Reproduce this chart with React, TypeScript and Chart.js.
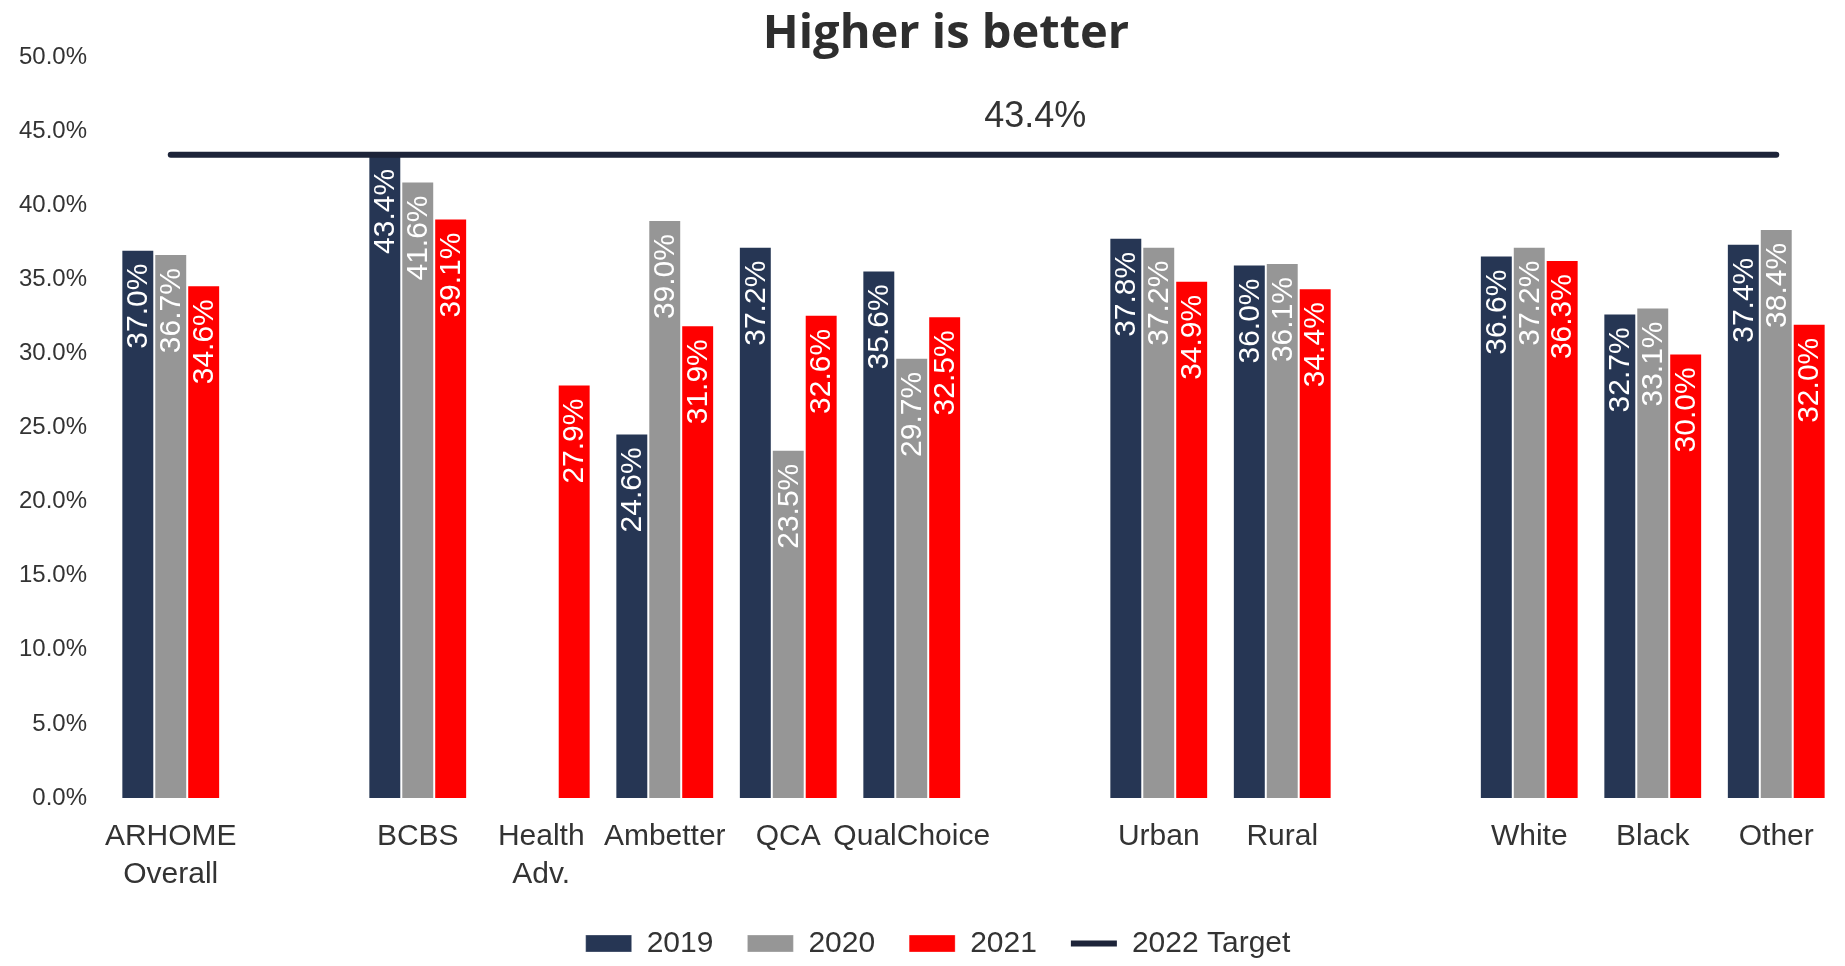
import React, { useEffect, useRef } from "react";
import { Chart, registerables } from "chart.js";

Chart.register(...registerables);

const categories: (string | string[])[] = [
  ["ARHOME", "Overall"],
  "",
  "BCBS",
  ["Health", "Adv."],
  "Ambetter",
  "QCA",
  "QualChoice",
  "",
  "Urban",
  "Rural",
  "",
  "White",
  "Black",
  "Other",
];

const values2019: (number | null)[] = [37.0, null, 43.4, null, 24.6, 37.2, 35.6, null, 37.8, 36.0, null, 36.6, 32.7, 37.4];
const values2020: (number | null)[] = [36.7, null, 41.6, null, 39.0, 23.5, 29.7, null, 37.2, 36.1, null, 37.2, 33.1, 38.4];
const values2021: (number | null)[] = [34.6, null, 39.1, 27.9, 31.9, 32.6, 32.5, null, 34.9, 34.4, null, 36.3, 30.0, 32.0];
const target2022: number[] = [43.4, 43.4, 43.4, 43.4, 43.4, 43.4, 43.4, 43.4, 43.4, 43.4, 43.4, 43.4, 43.4, 43.4];
const targetLabelIndex = 7;

const seriesNames = ["2019", "2020", "2021", "2022 Target"];
const chartTitle = "Higher is better";
const yMin = 0;
const yMax = 50;
const yStep = 5;

const NAVY = "#263654";
const GRAY = "#969696";
const RED = "#FF0000";
const LINE = "#1d2439";
const TEXT = "#333333";

const fmt = (v: number) => v.toFixed(1) + "%";

const labelPlugin = {
  id: "customLabels",
  afterDatasetsDraw(chart: any) {
    const ctx = chart.ctx;
    chart.data.datasets.forEach((ds: any, di: number) => {
      const meta = chart.getDatasetMeta(di);
      if (meta.hidden) return;
      if (ds.type === "line") {
        const pt = meta.data[targetLabelIndex];
        if (!pt) return;
        ctx.save();
        ctx.font = "36px 'Liberation Sans', Arial, sans-serif";
        ctx.fillStyle = TEXT;
        ctx.textAlign = "center";
        ctx.textBaseline = "middle";
        ctx.fillText(fmt(ds.data[targetLabelIndex]), pt.x, pt.y - 38);
        ctx.restore();
        return;
      }
      meta.data.forEach((bar: any, i: number) => {
        const v = ds.data[i];
        if (v === null || v === undefined) return;
        ctx.save();
        ctx.translate(bar.x + 1, bar.y + 14);
        ctx.rotate(-Math.PI / 2);
        ctx.font = "30px 'Liberation Sans', Arial, sans-serif";
        ctx.fillStyle = "#FFFFFF";
        ctx.textAlign = "right";
        ctx.textBaseline = "middle";
        ctx.fillText(fmt(v), 0, 0);
        ctx.restore();
      });
    });
  },
};

const titlePlugin = {
  id: "customTitle",
  afterLayout(chart: any) {
    // centre the legend row where the reference puts it
    if (chart.legend) {
      chart.legend.left += 19;
      chart.legend.right += 19;
    }
  },
  afterDraw(chart: any) {
    const ctx = chart.ctx;
    ctx.save();
    ctx.font = "bold 47px 'Open Sans', sans-serif";
    ctx.fillStyle = "#2e2e2e";
    ctx.textAlign = "center";
    ctx.textBaseline = "alphabetic";
    ctx.fillText(chartTitle, 946, 48);
    ctx.restore();
  },
};

export default function App() {
  const canvasRef = useRef<HTMLCanvasElement | null>(null);

  useEffect(() => {
    const canvas = canvasRef.current;
    if (!canvas) return;
    const barCommon = {
      type: "bar" as const,
      borderWidth: 1,
      borderColor: "rgba(255,255,255,0.3)",
      categoryPercentage: 0.8,
      barPercentage: 1.0,
      order: 1,
      pointStyle: "rect",
    };
    const chart = new Chart(canvas, {
      type: "bar",
      data: {
        labels: categories,
        datasets: [
          { ...barCommon, label: seriesNames[0], data: values2019, backgroundColor: NAVY },
          { ...barCommon, label: seriesNames[1], data: values2020, backgroundColor: GRAY },
          { ...barCommon, label: seriesNames[2], data: values2021, backgroundColor: RED },
          {
            type: "line" as const,
            label: seriesNames[3],
            data: target2022,
            borderColor: LINE,
            backgroundColor: LINE,
            borderWidth: 6,
            borderCapStyle: "round",
            pointRadius: 0,
            pointHoverRadius: 0,
            pointStyle: "line",
            order: 0,
          } as any,
        ],
      },
      options: {
        responsive: false,
        animation: false,
        devicePixelRatio: 1,
        layout: { padding: { top: 57, right: 7, bottom: -2.5, left: 0 } },
        plugins: {
          title: { display: false },
          tooltip: { enabled: false },
          legend: {
            display: true,
            position: "bottom",
            labels: {
              usePointStyle: true,
              pointStyleWidth: 46,
              boxHeight: 17,
              padding: 34,
              color: TEXT,
              font: { family: "'Liberation Sans', Arial, sans-serif", size: 30 },
              sort: (a: any, b: any) => a.datasetIndex - b.datasetIndex,
            },
          },
        },
        scales: {
          x: {
            grid: { display: false, drawTicks: false },
            border: { display: false },
            ticks: {
              autoSkip: false,
              maxRotation: 0,
              minRotation: 0,
              padding: 20,
              color: TEXT,
              font: { family: "'Liberation Sans', Arial, sans-serif", size: 30, lineHeight: 1.25 },
            },
            afterFit: (s: any) => {
              s.height = 96.5;
            },
          },
          y: {
            min: yMin,
            max: yMax,
            grid: { display: false, drawTicks: false },
            border: { display: false },
            ticks: {
              stepSize: yStep,
              padding: 22,
              color: TEXT,
              font: { family: "'Liberation Sans', Arial, sans-serif", size: 24 },
              callback: (v: any) => fmt(Number(v)),
            },
            afterFit: (s: any) => {
              s.width = 109;
            },
          },
        },
      },
      plugins: [labelPlugin, titlePlugin],
    } as any);
    return () => chart.destroy();
  }, []);

  return (
    <div style={{ position: "absolute", left: 0, top: 0, width: 1845, height: 966, background: "#fff" }}>
      <canvas ref={canvasRef} width={1845} height={966} style={{ width: 1845, height: 966, display: "block" }} />
    </div>
  );
}
